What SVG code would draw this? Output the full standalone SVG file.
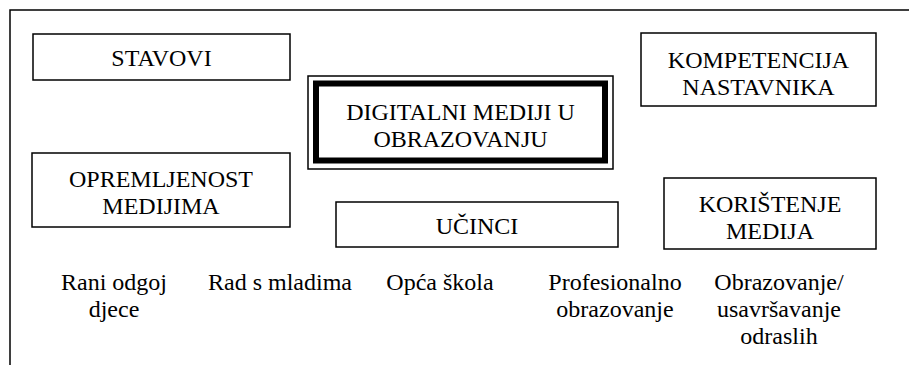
<svg xmlns="http://www.w3.org/2000/svg" width="909" height="365" viewBox="0 0 909 365">
<style>
.box{fill:#fff;stroke:#000;stroke-width:1.5}
text{font-family:"Liberation Serif",Tinos,"Times New Roman","DejaVu Serif",serif;font-size:24px;fill:#000;text-anchor:middle}
</style>
<rect width="909" height="365" fill="#fff"/>
<g id="frame">
<path d="M10,365 V10 H909" fill="none" stroke="#000" stroke-width="1.5"/>
</g>
<g id="connectors"></g>
<g font-family="Liberation Serif, serif" font-size="24" text-anchor="middle">
<g id="stavovi">
<rect class="box" x="33" y="34" width="257" height="46"/>
<text x="161.5" y="66">STAVOVI</text>
</g>
<g id="kompetencija">
<rect class="box" x="641" y="33" width="235" height="73"/>
<text x="758.5" y="68">KOMPETENCIJA</text>
<text x="758.5" y="95">NASTAVNIKA</text>
</g>
<g id="digitalni">
<rect x="308" y="76" width="305" height="93" fill="#fff" stroke="#000" stroke-width="1.5"/>
<rect x="316" y="83.5" width="289" height="77" fill="none" stroke="#000" stroke-width="6"/>
<text x="460.5" y="120">DIGITALNI MEDIJI U</text>
<text x="460.5" y="147">OBRAZOVANJU</text>
</g>
<g id="opremljenost">
<rect class="box" x="32" y="153" width="258" height="74"/>
<text x="161" y="187">OPREMLJENOST</text>
<text x="161" y="214">MEDIJIMA</text>
</g>
<g id="ucinci">
<rect class="box" x="336" y="202" width="282" height="45"/>
<text x="477" y="234">UČINCI</text>
</g>
<g id="koristenje">
<rect class="box" x="664" y="178" width="212" height="71"/>
<text x="770" y="212">KORIŠTENJE</text>
<text x="770" y="239">MEDIJA</text>
</g>
<g id="labels">
<text x="114" y="290">Rani odgoj</text>
<text x="114" y="317">djece</text>
<text x="280" y="290">Rad s mladima</text>
<text x="440" y="290">Opća škola</text>
<text x="615" y="290">Profesionalno</text>
<text x="615" y="317">obrazovanje</text>
<text x="779" y="290">Obrazovanje/</text>
<text x="779" y="317">usavršavanje</text>
<text x="779" y="344">odraslih</text>
</g>
</g>
</svg>
